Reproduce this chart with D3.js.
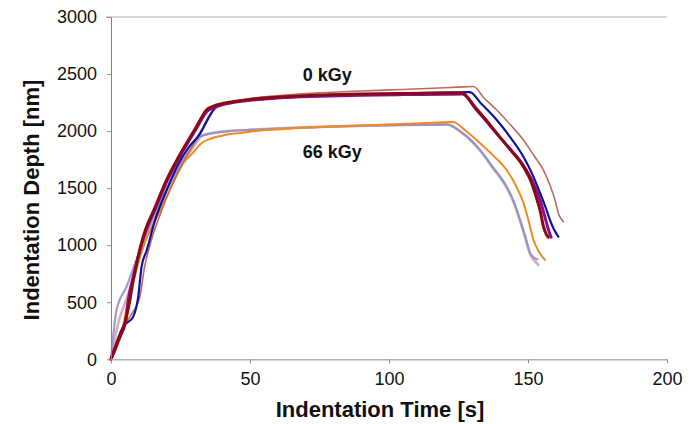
<!DOCTYPE html>
<html><head><meta charset="utf-8">
<script src="https://cdn.jsdelivr.net/npm/d3@7"></script>
<style>body{margin:0;background:#fff}svg{display:block}text{font-family:"Liberation Sans",Arial,sans-serif}</style>
</head><body><svg id="c" width="696" height="424"></svg>
<script>
// ---- data ----
const xTicks = [0, 50, 100, 150, 200];
const yTicks = [0, 500, 1000, 1500, 2000, 2500, 3000];
const seriesNames = ["66kGy-pink", "66kGy-lavender", "66kGy-orange", "0kGy-rosy", "0kGy-blue", "0kGy-purple", "0kGy-darkred"];

const tDarkRed = [0, 2.5, 5, 6.5, 8, 11.6, 16, 20, 24, 27.2, 31, 34.4, 36.5, 39.8, 45, 50, 60, 75, 90, 105, 120, 126.1, 131, 135, 138.7, 143.5, 148.3, 151, 153.1, 154.5, 155.5, 156.5, 157.3];
const dDarkRed = [0, 160, 320, 480, 690, 1075, 1340, 1573, 1760, 1895, 2050, 2187, 2215, 2240, 2262, 2278, 2298, 2315, 2325, 2330, 2333, 2335, 2210, 2095, 1982, 1840, 1690, 1565, 1410, 1290, 1170, 1100, 1070];

const tPurple = [0, 3, 5.2, 6.2, 8, 11.6, 16, 20, 24, 27.2, 31, 34.6, 37, 40, 45, 50, 60, 75, 90, 105, 120, 126.5, 131, 135, 138.7, 143.5, 148.3, 151.5, 154.3, 156, 157.3, 158.3];
const dPurple = [0, 190, 320, 520, 720, 1060, 1325, 1555, 1745, 1880, 2035, 2175, 2205, 2230, 2255, 2270, 2290, 2305, 2315, 2320, 2323, 2325, 2200, 2088, 1980, 1845, 1700, 1565, 1400, 1255, 1140, 1070];

const tBlue = [0, 4.4, 8, 9.8, 11, 12.8, 16, 20, 24, 28, 32, 35, 37.4, 40, 45, 50, 60, 75, 90, 105, 120, 129.1, 133, 138.7, 143.5, 148.3, 151.5, 154.3, 156.5, 157.9, 159.5, 160.9];
const dBlue = [0, 286, 374, 549, 812, 950, 1230, 1480, 1700, 1860, 1975, 2110, 2202, 2235, 2258, 2272, 2292, 2310, 2322, 2330, 2338, 2342, 2245, 2099, 1950, 1778, 1625, 1460, 1320, 1222, 1130, 1075];

const tRosy = [0, 4, 7.5, 10.4, 12, 14, 18, 22, 26, 30, 33, 36, 38.5, 42, 50, 60, 75, 90, 105, 120, 127, 130.4, 134, 138.7, 143.5, 148.3, 152, 155.5, 158, 159.7, 160.9, 162.7];
const dRosy = [0, 270, 400, 549, 800, 1000, 1290, 1530, 1730, 1900, 2030, 2160, 2220, 2250, 2285, 2310, 2335, 2352, 2365, 2380, 2388, 2391, 2295, 2187, 2060, 1924, 1790, 1660, 1520, 1397, 1281, 1207];

const tOrange = [0, 3.8, 6.2, 8, 11.6, 16, 20, 23, 26, 29.5, 32.6, 36, 40, 45, 50, 60, 75, 90, 105, 118, 123.1, 127.5, 132.7, 137.5, 142.3, 145.5, 148.3, 150.2, 151.9, 154, 156.1];
const dOrange = [0, 228, 520, 680, 988, 1220, 1426, 1580, 1719, 1810, 1895, 1935, 1960, 1980, 1995, 2015, 2035, 2050, 2062, 2075, 2079, 2005, 1895, 1785, 1660, 1530, 1375, 1215, 1050, 940, 871];

const tLavender = [0, 2, 5.6, 9, 12, 16, 20, 24, 28, 32, 36.8, 42, 50, 60, 75, 90, 105, 115, 120.7, 126, 132.7, 137.5, 142.3, 145, 147.1, 149, 150.7, 152.2, 153.4];
const dLavender = [0, 432, 637, 860, 1060, 1300, 1500, 1670, 1820, 1953, 1982, 1998, 2010, 2022, 2035, 2045, 2052, 2055, 2056, 1990, 1836, 1680, 1514, 1375, 1225, 1080, 935, 890, 877];

const tPink = [0, 2.6, 6, 9, 12, 16, 20, 24, 28, 33, 37, 42, 50, 60, 75, 90, 105, 115, 121, 126, 132.7, 137.5, 142.3, 145, 147.1, 149, 150.9, 152.5, 153.7];
const dPink = [0, 316, 560, 800, 1020, 1270, 1480, 1655, 1800, 1960, 1985, 2000, 2012, 2025, 2038, 2048, 2055, 2058, 2060, 1990, 1830, 1670, 1505, 1365, 1215, 1065, 915, 860, 827];

const groupLabels = ["0 kGy", "66 kGy"];
const groupLabelPos = [[69, 2436], [69, 1768]]; // [time, depth] anchors

// ---- chart ----
const svg = d3.select("#c");
const x = d3.scaleLinear().domain([0, 200]).range([111, 667]);
const y = d3.scaleLinear().domain([0, 3000]).range([359.3, 17]);

const times = [tPink, tLavender, tOrange, tRosy, tBlue, tPurple, tDarkRed];
const depths = [dPink, dLavender, dOrange, dRosy, dBlue, dPurple, dDarkRed];
const colors = ["#d2a3a8", "#8d8dc6", "#f28a24", "#bd6a64", "#11119a", "#8e0f8e", "#8a0a14"];
const widths = [2.6, 2.2, 2, 1.6, 2.2, 3, 3];
const opac = [0.85, 0.85, 1, 1, 1, 1, 1];

// top border line
svg.append("line").attr("x1", 106).attr("x2", 667).attr("y1", y(3000)).attr("y2", y(3000))
  .attr("stroke", "#d6d6d6").attr("stroke-width", 2);

const line = d3.line().curve(d3.curveMonotoneX).x(d => x(d[0])).y(d => y(d[1]));
seriesNames.forEach((n, i) => {
  const pts = times[i].map((t, j) => [t, depths[i][j]]);
  svg.append("path").datum(pts).attr("d", line).attr("fill", "none")
    .attr("stroke", colors[i]).attr("stroke-width", widths[i]).attr("stroke-opacity", opac[i])
    .attr("stroke-linejoin", "round").attr("stroke-linecap", "round");
});

// x axis
const gx = svg.append("g").attr("transform", `translate(0,${y(0)})`)
  .call(d3.axisBottom(x).tickValues(xTicks).tickFormat(d3.format("d")).tickSize(4).tickSizeOuter(0).tickPadding(9));
gx.select(".domain").attr("stroke", "#b0b0b0").attr("stroke-width", 1.5);
gx.selectAll(".tick line").attr("stroke", "#909090");
gx.selectAll("text").attr("font-size", 18).attr("fill", "#111");

// y axis
const gy = svg.append("g").attr("transform", `translate(${x(0)},0)`)
  .call(d3.axisLeft(y).tickValues(yTicks).tickFormat(d3.format("d")).tickSize(4).tickSizeOuter(0).tickPadding(10));
gy.select(".domain").attr("stroke", "#808080").attr("stroke-width", 1);
gy.selectAll(".tick line").attr("stroke", "#909090");
gy.selectAll("text").attr("font-size", 18).attr("fill", "#111");

// titles
svg.append("text").attr("x", 380).attr("y", 417).attr("text-anchor", "middle")
  .attr("font-size", 22).attr("font-weight", "bold").attr("fill", "#111").text("Indentation Time [s]");
svg.append("text").attr("transform", "translate(39,200) rotate(-90)").attr("text-anchor", "middle")
  .attr("font-size", 22).attr("font-weight", "bold").attr("fill", "#111").text("Indentation Depth [nm]");

// group labels
groupLabels.forEach((g, i) => {
  svg.append("text").attr("x", x(groupLabelPos[i][0])).attr("y", y(groupLabelPos[i][1]))
    .attr("font-size", 18).attr("font-weight", "bold").attr("fill", "#111").text(g);
});
</script></body></html>
